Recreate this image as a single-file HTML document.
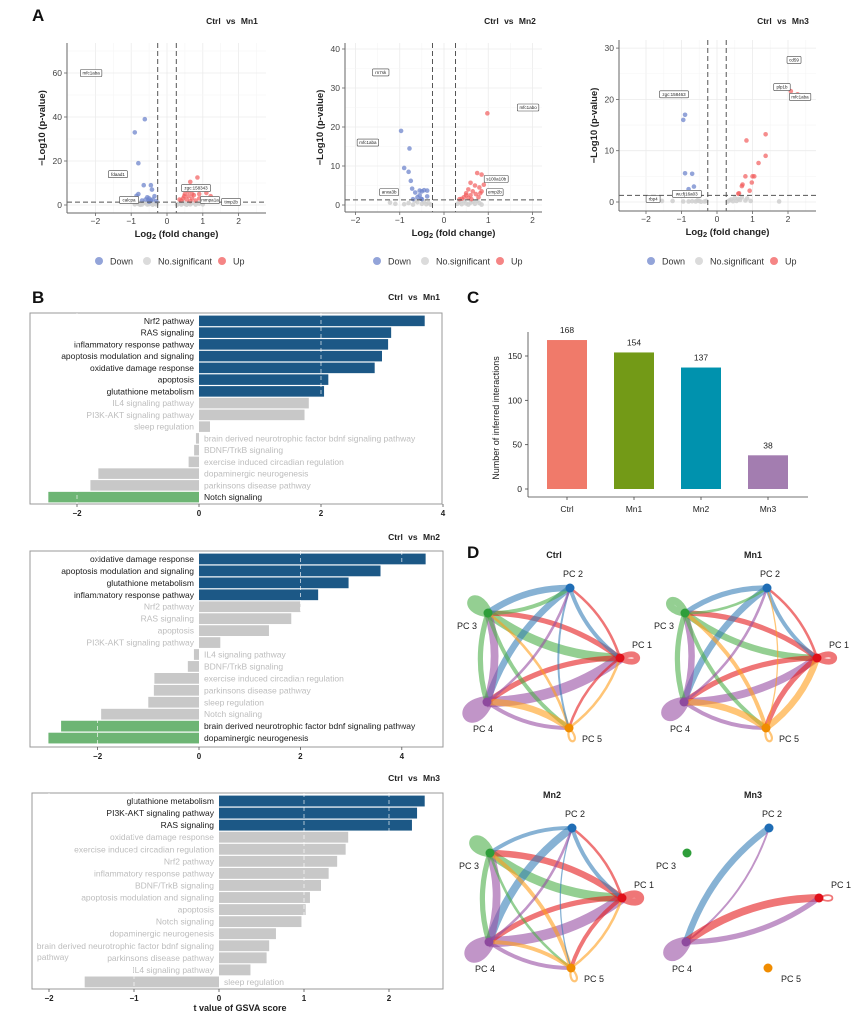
<!DOCTYPE html>
<html><head><meta charset="utf-8">
<style>
html,body{margin:0;padding:0;background:#fff;}
svg{display:block;font-family:"Liberation Sans",Arial,sans-serif;}
</style></head>
<body>
<svg id="fig" width="862" height="1023" viewBox="0 0 862 1023" xmlns="http://www.w3.org/2000/svg"></svg>
<script>
// ---------- Panel A data ----------
const v1Down=[[-0.62,39],[-0.9,33],[-0.8,19],[-0.65,9],[-0.45,9],[-0.42,7],[-0.8,5],[-0.85,4.2],[-0.55,3.5],[-0.5,3],[-0.35,4],[-0.6,2.5],[-0.45,2],[-0.4,2.5],[-0.7,2],[-0.3,1.8],[-0.5,1.5],[-0.52,2.2]];
const v1Up=[[0.85,12.5],[0.65,10.5],[0.75,8],[0.55,7],[0.5,5],[0.6,4],[0.7,3],[0.9,3],[1.1,5.5],[1.22,4],[0.45,3],[0.55,2.5],[0.8,2],[1.0,2.5],[0.4,2],[0.65,1.8],[0.7,5],[0.6,6],[0.48,4],[0.75,4.5],[0.9,5],[0.35,2.5]];
const v1NS=[[-0.9,0.3],[-0.8,0.5],[-0.7,0.2],[-0.6,0.8],[-0.5,0.4],[-0.45,0.9],[-0.4,0.1],[-0.35,0.6],[-0.3,0.3],[-0.28,1.0],[-0.75,0.1],[-0.55,0.2],[0.3,0.4],[0.35,0.8],[0.4,0.2],[0.45,1.1],[0.5,0.5],[0.55,0.1],[0.6,0.7],[0.65,0.3],[0.7,0.9],[0.8,0.2],[0.9,0.6],[1.0,0.3],[0.28,0.1],[-0.65,1.1]];
const v1Labels=[["mfc1aba",-2.12,60],["fdaad1",-1.37,14],["calcpa",-1.06,2.3],["zgc:158343",0.81,7.7],["mmpa1a",1.2,2.3],["timp2b",1.79,1.4]];
const v2Down=[[-0.97,19],[-0.78,14.5],[-0.9,9.5],[-0.8,8.5],[-0.75,6.2],[-0.72,4.2],[-0.65,3.2],[-0.55,3.7],[-0.5,3.5],[-0.45,3.8],[-0.38,3.7],[-0.38,2.2],[-0.55,2.5],[-0.6,2],[-0.7,1.5],[-0.5,1.5],[-0.52,1.6]];
const v2Up=[[0.98,23.5],[0.75,8.2],[0.85,7.8],[0.9,5.2],[0.6,5.7],[0.7,5],[0.8,4.5],[0.85,3.5],[0.55,4],[0.65,3.5],[0.5,3],[0.6,2.5],[0.72,2.8],[0.45,2],[0.4,1.6],[0.55,1.8],[0.62,1.5],[0.78,2],[0.35,1.5],[0.5,2.5],[0.82,3]];
const v2NS=[[-1.22,0.6],[-1.1,0.3],[-0.9,0.2],[-0.8,0.5],[-0.7,0.1],[-0.6,0.7],[-0.5,0.3],[-0.45,0.9],[-0.4,0.2],[-0.35,0.5],[-0.3,0.1],[0.3,0.3],[0.35,0.8],[0.4,0.2],[0.45,1.0],[0.5,0.4],[0.55,0.1],[0.6,0.6],[0.65,0.9],[0.7,0.3],[0.8,0.5],[0.85,0.1],[-0.65,1.1],[0.75,1.1]];
const v2Labels=[["rn7sk",-1.43,34],["mfc1aba",-1.72,16],["anxa3b",-1.24,3.3],["s100a10b",1.18,6.7],["emp2b",1.15,3.3],["mfc1abo",1.9,25]];
const v3Down=[[-0.9,17],[-0.95,16],[-0.9,5.6],[-0.7,5.5],[-0.65,3],[-0.8,2.5]];
const v3Up=[[2.08,21.6],[2.27,21],[1.37,13.2],[0.83,12],[1.37,9],[1.17,7.6],[1.05,5],[1.0,5],[0.8,5],[0.98,3.8],[0.72,3.4],[0.7,3.1],[0.92,2.2],[0.62,1.7],[0.6,1.6]];
const v3NS=[[-1.55,0.2],[-1.25,0.2],[-0.95,0.1],[-0.8,0.1],[-0.7,0.15],[-0.6,0.1],[-0.5,0.2],[-0.45,0.05],[-0.35,0.1],[-0.3,0.2],[0.3,0.1],[0.35,0.3],[0.4,0.5],[0.5,0.8],[0.55,0.2],[0.6,0.6],[0.65,0.4],[0.7,0.9],[0.8,0.3],[0.85,0.7],[0.95,0.2],[1.75,0.1],[0.45,0.15],[-0.55,0.3]];
const v3Labels=[["cd59",2.17,27.7],["plp1b",1.83,22.4],["mfc1aba",2.34,20.5],["zgc:158463",-1.21,21],["wu:fj16a03",-0.85,1.6],["rbp4",-1.8,0.6]];
const volXTicks=[-2,-1,0,1,2];
const v1YTicks=[0,20,40,60];
const v2YTicks=[0,10,20,30,40];
const v3YTicks=[0,10,20,30];

// ---------- Panel B data ----------
const b1Names=["Nrf2 pathway","RAS signaling","inflammatory response pathway","apoptosis modulation and signaling","oxidative damage response","apoptosis","glutathione metabolism","IL4 signaling pathway","PI3K-AKT signaling pathway","sleep regulation","brain derived neurotrophic factor bdnf signaling pathway","BDNF/TrkB signaling","exercise induced circadian regulation","dopaminergic neurogenesis","parkinsons disease pathway","Notch signaling"];
const b1Vals=[3.7,3.15,3.1,3.0,2.88,2.12,2.05,1.8,1.73,0.18,-0.05,-0.08,-0.17,-1.65,-1.78,-2.47];
const b1Sig=["up","up","up","up","up","up","up","ns","ns","ns","ns","ns","ns","ns","ns","down"];
const b1Ticks=[-2,0,2,4];
const b2Names=["oxidative damage response","apoptosis modulation and signaling","glutathione metabolism","inflammatory response pathway","Nrf2 pathway","RAS signaling","apoptosis","PI3K-AKT signaling pathway","IL4 signaling pathway","BDNF/TrkB signaling","exercise induced circadian regulation","parkinsons disease pathway","sleep regulation","Notch signaling","brain derived neurotrophic factor bdnf signaling pathway","dopaminergic neurogenesis"];
const b2Vals=[4.47,3.58,2.95,2.35,2.0,1.82,1.38,0.42,-0.1,-0.22,-0.88,-0.89,-1.0,-1.93,-2.72,-2.97];
const b2Sig=["up","up","up","up","ns","ns","ns","ns","ns","ns","ns","ns","ns","ns","down","down"];
const b2Ticks=[-2,0,2,4];
const b3Names=["glutathione metabolism","PI3K-AKT signaling pathway","RAS signaling","oxidative damage response","exercise induced circadian regulation","Nrf2 pathway","inflammatory response pathway","BDNF/TrkB signaling","apoptosis modulation and signaling","apoptosis","Notch signaling","dopaminergic neurogenesis","brain derived neurotrophic factor bdnf signaling|pathway","parkinsons disease pathway","IL4 signaling pathway","sleep regulation"];
const b3Vals=[2.42,2.33,2.27,1.52,1.49,1.39,1.29,1.2,1.07,1.02,0.97,0.67,0.59,0.56,0.37,-1.58];
const b3Sig=["up","up","up","ns","ns","ns","ns","ns","ns","ns","ns","ns","ns","ns","ns","ns"];
const b3Ticks=[-2,-1,0,1,2];

// ---------- Panel C data ----------
const cGroups=["Ctrl","Mn1","Mn2","Mn3"];
const cCounts=[168,154,137,38];
const cTicks=[0,50,100,150];

// ---------- Panel D data (from, to, weight); node index 1..5 ----------
const dCtrl=[[3,1,7],[4,1,8],[1,3,4],[1,4,4],[2,4,5],[4,3,6],[3,4,4],[3,2,3],[2,3,5],[1,2,2],[2,1,3],[3,5,3],[5,3,2],[4,5,3],[5,4,5],[1,5,2],[5,1,2],[2,5,1.5],[4,2,2]];
const dCtrlSelf=[[1,4],[3,6],[4,8],[5,1.5]];
const dMn1=[[3,1,5],[4,1,6],[1,3,4],[1,4,4],[2,4,5],[4,3,5],[3,4,4],[3,2,2],[2,3,4],[1,2,2],[2,1,3],[3,5,3],[5,3,3],[4,5,3],[5,4,5],[1,5,4],[5,1,5],[5,2,1],[4,2,2]];
const dMn1Self=[[1,4],[3,5],[4,7],[5,1.5]];
const dMn2=[[3,1,7],[4,1,8],[1,3,5],[1,4,4],[2,4,6],[4,3,6],[3,4,4],[2,3,3],[1,2,2],[2,1,3],[3,5,2],[5,3,3],[4,5,3],[5,4,3],[1,5,3],[5,1,2],[2,5,1],[4,2,2]];
const dMn2Self=[[1,5],[3,6],[4,8],[5,1.5]];
const dMn3=[[2,4,5],[4,2,1.5],[1,4,6],[4,1,4]];
const dMn3Self=[[1,1.2],[4,7]];

const NS='http://www.w3.org/2000/svg';
const svg=document.getElementById('fig');
function add(parent,tag,attrs,name,inter,text){
  const el=document.createElementNS(NS,tag);
  for(const k in attrs) el.setAttribute(k,attrs[k]);
  
  
  if(text!=null) el.textContent=text;
  parent.appendChild(el);
  return el;
}
function grp(name){ return add(svg,'g',{},name,false); }

[["A",32,21],["B",32,303],["C",467,303],["D",467,558]].forEach(p=>{
  add(svg,'text',{x:p[1],y:p[2],'font-size':17,'font-weight':'bold',fill:'#111'},'panel-label-'+p[0].toLowerCase(),false,p[0]);
});

function volcano(id,c,down,up,ns,labels,yTicks){
  const g=grp('volcano-'+id);
  const sx=v=>c.x0+v*c.xs, sy=v=>c.y0-v*c.ys;
  add(g,'text',{x:c.tx,y:24,'font-size':8.5,'font-weight':'bold','text-anchor':'middle',fill:'#222','word-spacing':'3'},'volcano-title',false,c.title);
  volXTicks.forEach((t,i)=>{
    const x=sx(t); if(x>c.L&&x<c.R) add(g,'line',{x1:x,x2:x,y1:c.T,y2:c.B,stroke:'#ebebeb','stroke-width':0.8},'grid-x',false);
    const xm=sx(t+0.5); if(xm>c.L&&xm<c.R) add(g,'line',{x1:xm,x2:xm,y1:c.T,y2:c.B,stroke:'#f5f5f5','stroke-width':0.6},'grid-x-minor',false);
  });
  const ystep=yTicks[1]-yTicks[0];
  yTicks.forEach(t=>{
    add(g,'line',{x1:c.L,x2:c.R,y1:sy(t),y2:sy(t),stroke:'#ebebeb','stroke-width':0.8},'grid-y',false);
    const ym=sy(t+ystep/2); if(ym>c.T) add(g,'line',{x1:c.L,x2:c.R,y1:ym,y2:ym,stroke:'#f5f5f5','stroke-width':0.6},'grid-y-minor',false);
  });
  ns.forEach(p=>{add(g,'circle',{cx:sx(p[0]),cy:sy(p[1]),r:2.3,fill:'#cfcfcf','fill-opacity':0.85},'point-nosig',false);});
  down.forEach(p=>{add(g,'circle',{cx:sx(p[0]),cy:sy(p[1]),r:2.3,fill:'#6f86cc','fill-opacity':0.75},'point-down',false);});
  up.forEach(p=>{add(g,'circle',{cx:sx(p[0]),cy:sy(p[1]),r:2.3,fill:'#f25c5c','fill-opacity':0.7},'point-up',false);});
  [-0.26,0.26].forEach(t=>add(g,'line',{x1:sx(t),x2:sx(t),y1:c.T,y2:c.B,stroke:'#555','stroke-width':1,'stroke-dasharray':'5,3'},'threshold-fc',false));
  add(g,'line',{x1:c.L,x2:c.R,y1:sy(1.3),y2:sy(1.3),stroke:'#555','stroke-width':1,'stroke-dasharray':'5,3'},'threshold-p',false);
  labels.forEach(l=>{
    const w=l[0].length*2.5+4, x=sx(l[1]), y=sy(l[2]);
    add(g,'rect',{x:x-w/2,y:y-3.5,width:w,height:7,fill:'#fff',stroke:'#444','stroke-width':0.6,rx:1},'gene-label-box',false);
    add(g,'text',{x:x,y:y+1.6,'font-size':4.5,'text-anchor':'middle',fill:'#222'},'gene-label',false,l[0]);
  });
  add(g,'line',{x1:c.L,x2:c.L,y1:c.T,y2:c.B,stroke:'#666','stroke-width':1},'y-axis',false);
  add(g,'line',{x1:c.L,x2:c.R,y1:c.B,y2:c.B,stroke:'#666','stroke-width':1},'x-axis',false);
  volXTicks.forEach(t=>{
    const x=sx(t);
    add(g,'line',{x1:x,x2:x,y1:c.B,y2:c.B+3,stroke:'#666','stroke-width':0.8},'x-tick',false);
    add(g,'text',{x:x,y:c.B+11,'font-size':8.5,'text-anchor':'middle',fill:'#444'},'x-tick-label',false,t<0?'\u2212'+(-t):String(t));
  });
  yTicks.forEach(t=>{
    add(g,'line',{x1:c.L-3,x2:c.L,y1:sy(t),y2:sy(t),stroke:'#666','stroke-width':0.8},'y-tick',false);
    add(g,'text',{x:c.L-5,y:sy(t)+3,'font-size':8.5,'text-anchor':'end',fill:'#444'},'y-tick-label',false,String(t));
  });
  add(g,'text',{x:0,y:0,'font-size':9.5,'font-weight':'bold','text-anchor':'middle',fill:'#222',transform:`translate(${c.L-22},${(c.T+c.B)/2}) rotate(-90)`},'y-axis-title',false,'\u2212Log10 (p-value)');
  const xt=add(g,'text',{x:(c.L+c.R)/2+10,y:c.B+24,'font-size':9.5,'font-weight':'bold','text-anchor':'middle',fill:'#222'},'x-axis-title',false,null);
  const t1=document.createElementNS(NS,'tspan'); t1.textContent='Log'; xt.appendChild(t1);
  const t2=document.createElementNS(NS,'tspan'); t2.setAttribute('font-size','7.5'); t2.setAttribute('dy','2'); t2.textContent='2'; xt.appendChild(t2);
  const t3=document.createElementNS(NS,'tspan'); t3.setAttribute('dy','-2'); t3.textContent=' (fold change)'; xt.appendChild(t3);
  const lg=add(g,'g',{},'legend',false);
  [["Down","#6f86cc",32],["No.significant","#cfcfcf",80],["Up","#f25c5c",155]].forEach(e=>{
    add(lg,'circle',{cx:c.L+e[2],cy:261,r:4,fill:e[1],'fill-opacity':0.75},'legend-dot-'+e[0].toLowerCase().replace('.','-'),false);
    add(lg,'text',{x:c.L+e[2]+11,y:264.5,'font-size':9,fill:'#333'},'legend-entry',false,e[0]);
  });
}
volcano('mn1',{L:67,R:266,T:43,B:213,x0:167,xs:35.8,y0:205,ys:2.2,tx:232,title:'Ctrl vs Mn1'},v1Down,v1Up,v1NS,v1Labels,v1YTicks);
volcano('mn2',{L:345,R:542,T:43,B:212,x0:444,xs:44.25,y0:205,ys:3.9,tx:510,title:'Ctrl vs Mn2'},v2Down,v2Up,v2NS,v2Labels,v2YTicks);
volcano('mn3',{L:619,R:816,T:40,B:211,x0:717,xs:35.5,y0:202,ys:5.13,tx:783,title:'Ctrl vs Mn3'},v3Down,v3Up,v3NS,v3Labels,v3YTicks);

function gsva(id,c,names,vals,sig,ticks){
  const g=grp('gsva-'+id);
  const sx=v=>c.x0+v*c.xs;
  add(g,'text',{x:440,y:c.titleY,'font-size':8.5,'font-weight':'bold','text-anchor':'end',fill:'#222','word-spacing':'3'},'gsva-title',false,c.title);
  add(g,'rect',{x:c.L,y:c.T,width:c.R-c.L,height:c.B-c.T,fill:'#fff',stroke:'#999','stroke-width':1},'plot-frame',false);
  const col={up:'#1c5886',down:'#6db574',ns:'#c8c8c8'};
  vals.forEach((v,i)=>{
    const y=c.rowTop+i*c.rowH, h=c.rowH-1.2;
    const x=Math.min(sx(0),sx(v)), w=Math.abs(sx(v)-sx(0));
    add(g,'rect',{x:x,y:y+0.6,width:w,height:h,fill:col[sig[i]]},'bar-'+names[i].split('|')[0].replace(/[^a-zA-Z0-9]+/g,'-').toLowerCase(),false);
    const tc=sig[i]==='ns'?'#bdbdbd':'#1a1a1a', ty=y+c.rowH/2+3;
    const parts=names[i].split('|');
    if(v>=0){
      add(g,'text',{x:sx(0)-5,y:ty,'font-size':8.5,'text-anchor':'end',fill:tc},'bar-label',false,parts[0]);
      if(parts[1]) add(g,'text',{x:c.L+5,y:ty+c.rowH*0.95,'font-size':8.5,'text-anchor':'start',fill:tc},'bar-label-wrap',false,parts[1]);
    } else {
      add(g,'text',{x:sx(0)+5,y:ty,'font-size':8.5,'text-anchor':'start',fill:tc},'bar-label',false,parts[0]);
    }
  });
  ticks.forEach(t=>{
    if(t!==0) add(g,'line',{x1:sx(t),x2:sx(t),y1:c.T,y2:c.B,stroke:'#fff','stroke-width':0.8,'stroke-dasharray':'4,3','stroke-opacity':0.8},'grid-dash',false);
    add(g,'line',{x1:sx(t),x2:sx(t),y1:c.B,y2:c.B+3,stroke:'#555','stroke-width':0.8},'x-tick',false);
    add(g,'text',{x:sx(t),y:c.B+12,'font-size':8,'font-weight':'bold','text-anchor':'middle',fill:'#222'},'x-tick-label',false,t<0?'\u2212'+(-t):String(t));
  });
}
gsva('mn1',{L:30,R:442,T:313,B:504,x0:199,xs:61,rowTop:315,rowH:11.75,titleY:300,title:'Ctrl vs Mn1'},b1Names,b1Vals,b1Sig,b1Ticks);
gsva('mn2',{L:30,R:443,T:551,B:747,x0:199,xs:50.7,rowTop:553,rowH:11.94,titleY:540,title:'Ctrl vs Mn2'},b2Names,b2Vals,b2Sig,b2Ticks);
gsva('mn3',{L:32,R:443,T:793,B:989,x0:219,xs:85,rowTop:795,rowH:12.06,titleY:781,title:'Ctrl vs Mn3'},b3Names,b3Vals,b3Sig,b3Ticks);
add(svg,'text',{x:240,y:1011,'font-size':9,'font-weight':'bold','text-anchor':'middle',fill:'#222'},'gsva-x-axis-title',false,'t value of GSVA score');

(function(){
  const g=grp('interactions-bar-chart');
  const L=528,B=497,y0=489,ys=133/150;
  const sy=v=>y0-v*ys;
  const cols=['#f07a6a','#739a17','#0092ae','#a37db0'];
  cGroups.forEach((n,i)=>{
    const cx=567+i*67;
    add(g,'rect',{x:cx-20,y:sy(cCounts[i]),width:40,height:sy(0)-sy(cCounts[i]),fill:cols[i]},'bar-'+n.toLowerCase(),false);
    add(g,'text',{x:cx,y:sy(cCounts[i])-7,'font-size':8.5,'text-anchor':'middle',fill:'#222'},'value-label-'+n.toLowerCase(),false,String(cCounts[i]));
    add(g,'line',{x1:cx,x2:cx,y1:B,y2:B+3,stroke:'#444','stroke-width':0.8},'x-tick',false);
    add(g,'text',{x:cx,y:B+15,'font-size':8.5,'text-anchor':'middle',fill:'#222'},'x-tick-label',false,n);
  });
  add(g,'line',{x1:L,x2:L,y1:332,y2:B,stroke:'#444','stroke-width':0.8},'y-axis',false);
  add(g,'line',{x1:L,x2:808,y1:B,y2:B,stroke:'#444','stroke-width':0.8},'x-axis',false);
  cTicks.forEach(t=>{
    add(g,'line',{x1:L-3,x2:L,y1:sy(t),y2:sy(t),stroke:'#444','stroke-width':0.8},'y-tick',false);
    add(g,'text',{x:L-6,y:sy(t)+3,'font-size':8.5,'text-anchor':'end',fill:'#222'},'y-tick-label',false,String(t));
  });
  add(g,'text',{x:0,y:0,'font-size':9,'text-anchor':'middle',fill:'#222',transform:'translate(499,418) rotate(-90)'},'y-axis-title',false,'Number of inferred interactions');
})();

const nodeCols={1:'#e0101a',2:'#1f6db5',3:'#2e9e3a',4:'#8e4a9e',5:'#f08c00'};
const edgeCols={1:'#e41a1c',2:'#377eb8',3:'#4daf4a',4:'#984ea3',5:'#ff9f1c'};
function network(id,title,ox,oy,edges,selfs,tx,ty){
  const g=grp('network-'+id);
  const P={1:[620+ox,658+oy],2:[570+ox,588+oy],3:[488+ox,613+oy],4:[487+ox,702+oy],5:[569+ox,728+oy]};
  const cx=(P[1][0]+P[2][0]+P[3][0]+P[4][0]+P[5][0])/5, cy=(P[1][1]+P[2][1]+P[3][1]+P[4][1]+P[5][1])/5;
  add(g,'text',{x:tx,y:ty,'font-size':9,'font-weight':'bold','text-anchor':'middle',fill:'#222'},'network-title',false,title);
  selfs.forEach(s=>{
    const [x,y]=P[s[0]]; let dx=x-cx, dy=y-cy; const d=Math.hypot(dx,dy); dx/=d; dy/=d;
    const L=18+s[1]*2, a=0.5;
    const c1=[x+L*(dx*Math.cos(a)-dy*Math.sin(a)), y+L*(dx*Math.sin(a)+dy*Math.cos(a))];
    const c2=[x+L*(dx*Math.cos(-a)-dy*Math.sin(-a)), y+L*(dx*Math.sin(-a)+dy*Math.cos(-a))];
    add(g,'path',{d:`M${x},${y} C${c1[0]},${c1[1]} ${c2[0]},${c2[1]} ${x},${y}`,fill:'none',stroke:edgeCols[s[0]],'stroke-width':s[1]*1.5,'stroke-opacity':0.6,'stroke-linecap':'round'},'self-loop-pc'+s[0],false);
  });
  edges.forEach(e=>{
    const [x1,y1]=P[e[0]], [x2,y2]=P[e[1]];
    const mx=(x1+x2)/2, my=(y1+y2)/2, dx=x2-x1, dy=y2-y1;
    const k=0.16;
    const qx=mx-dy*k, qy=my+dx*k;
    add(g,'path',{d:`M${x1},${y1} Q${qx},${qy} ${x2},${y2}`,fill:'none',stroke:edgeCols[e[0]],'stroke-width':e[2]*1.3,'stroke-opacity':0.6},'edge-pc'+e[0]+'-pc'+e[1],false);
  });
  const off={1:[22,-10],2:[3,-11],3:[-21,16],4:[-4,30],5:[23,14]};
  [1,2,3,4,5].forEach(n=>{
    add(g,'circle',{cx:P[n][0],cy:P[n][1],r:4.5,fill:nodeCols[n]},'node-pc'+n,true);
    add(g,'text',{x:P[n][0]+off[n][0],y:P[n][1]+off[n][1],'font-size':9,'text-anchor':'middle',fill:'#222'},'node-label-pc'+n,false,'PC '+n);
  });
}
network('ctrl','Ctrl',0,0,dCtrl,dCtrlSelf,554,558);
network('mn1','Mn1',197,0,dMn1,dMn1Self,753,558);
network('mn2','Mn2',2,240,dMn2,dMn2Self,552,798);
network('mn3','Mn3',199,240,dMn3,dMn3Self,753,798);
</script>
</body></html>
